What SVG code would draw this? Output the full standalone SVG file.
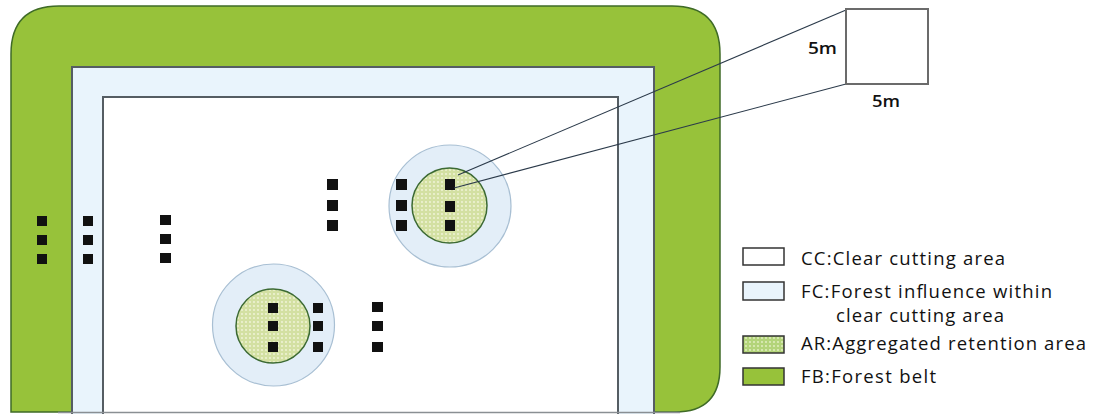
<svg xmlns="http://www.w3.org/2000/svg" width="1093" height="414" viewBox="0 0 1093 414">
  <defs>
    <pattern id="dots" width="4" height="4" patternUnits="userSpaceOnUse">
      <rect width="4" height="4" fill="#d3e0a2"/>
      <circle cx="2" cy="2" r="0.9" fill="#f3f6dc"/>
    </pattern>
    <pattern id="dotsLeg" width="4" height="4" patternUnits="userSpaceOnUse">
      <rect width="4" height="4" fill="#b3d47a"/>
      <circle cx="2" cy="2" r="0.9" fill="#e6f1c8"/>
    </pattern>
    <style>
      .belt { fill: #97c23a; stroke: #3f6b27; stroke-width: 1.5; }
      .fc { fill: #e9f4fc; stroke: #555d63; stroke-width: 2; }
      .cc { fill: #ffffff; stroke: #555d63; stroke-width: 2; }
      .halo { fill: #e3eef8; stroke: #a8bfd3; stroke-width: 1.2; }
      .ar { fill: url(#dots); stroke: #3c6a33; stroke-width: 1.5; }
      .tree { fill: #111111; }
      .link { stroke: #2b3a4a; stroke-width: 1.1; fill: none; }
      .plot { fill: #ffffff; stroke: #6b6b6b; stroke-width: 2; }
      .dim { font-family: "Open Sans", "DejaVu Sans", sans-serif; font-size: 16px; font-weight: 600; fill: #111; }
      .leg { font-family: "Open Sans", "DejaVu Sans", sans-serif; font-size: 18.5px; font-weight: 500; fill: #111; }
      .lbox { stroke: #333; stroke-width: 1.5; }
    </style>
  </defs>

  <g id="forest-belt">
    <path class="belt" d="M11,412 L11,54 Q11,6 59,6 L672,6 Q720,6 720,54 L720,367 Q720,412 675,412 Z"/>
  </g>

  <g id="forest-influence">
    <path class="fc" d="M72,414 L72,67 L654,67 L654,414"/>
  </g>

  <g id="clear-cutting">
    <path class="cc" d="M103,414 L103,97 L618,97 L618,414"/>
  </g>

  <line x1="58" y1="412.5" x2="680" y2="412.5" stroke="#8a8f93" stroke-width="1.5"/>

  <g id="retention-upper">
    <circle class="halo" cx="450" cy="206" r="61"/>
    <circle class="ar" cx="449.5" cy="205.5" r="37.5"/>
  </g>

  <g id="retention-lower">
    <circle class="halo" cx="273.5" cy="325" r="61"/>
    <circle class="ar" cx="273" cy="326" r="37"/>
  </g>

  <g id="trees">
    <rect class="tree" x="37" y="216" width="10" height="10"/>
    <rect class="tree" x="37" y="235" width="10" height="10"/>
    <rect class="tree" x="37" y="254" width="10" height="10"/>
    <rect class="tree" x="83" y="216" width="10" height="10"/>
    <rect class="tree" x="83" y="235" width="10" height="10"/>
    <rect class="tree" x="83" y="254" width="10" height="10"/>
    <rect class="tree" x="160" y="215" width="11" height="10"/>
    <rect class="tree" x="160" y="234" width="11" height="10"/>
    <rect class="tree" x="160" y="253" width="11" height="10"/>
    <rect class="tree" x="327" y="179" width="11" height="11"/>
    <rect class="tree" x="327" y="200" width="11" height="11"/>
    <rect class="tree" x="327" y="220" width="11" height="11"/>
    <rect class="tree" x="396" y="179" width="11" height="11"/>
    <rect class="tree" x="396" y="200" width="11" height="11"/>
    <rect class="tree" x="396" y="220" width="11" height="11"/>
    <rect class="tree" x="445" y="179" width="10" height="11"/>
    <rect class="tree" x="445" y="201" width="10" height="11"/>
    <rect class="tree" x="445" y="220" width="10" height="11"/>
    <rect class="tree" x="268" y="303" width="10" height="10"/>
    <rect class="tree" x="268" y="321" width="10" height="10"/>
    <rect class="tree" x="268" y="342" width="10" height="10"/>
    <rect class="tree" x="313" y="303" width="10" height="10"/>
    <rect class="tree" x="313" y="321" width="10" height="10"/>
    <rect class="tree" x="313" y="342" width="10" height="10"/>
    <rect class="tree" x="372" y="302" width="11" height="10"/>
    <rect class="tree" x="372" y="321" width="11" height="10"/>
    <rect class="tree" x="372" y="342" width="11" height="10"/>
  </g>

  <g id="connectors">
    <line class="link" x1="846" y1="10" x2="458" y2="175"/>
    <line class="link" x1="846" y1="84" x2="454" y2="188"/>
  </g>

  <g id="plot-5m">
    <rect class="plot" x="846" y="9" width="82" height="75"/>
    <text class="dim" x="808" y="54" textLength="29" lengthAdjust="spacingAndGlyphs">5m</text>
    <text class="dim" x="872" y="107" textLength="28" lengthAdjust="spacingAndGlyphs">5m</text>
  </g>

  <g id="legend">
    <rect class="lbox" x="743" y="248" width="41" height="17" fill="#ffffff"/>
    <text class="leg" x="801" y="265" textLength="204" lengthAdjust="spacing">CC:Clear cutting area</text>
    <rect class="lbox" x="743" y="282" width="41" height="18" fill="#e9f4fc"/>
    <text class="leg" x="801" y="298" textLength="251" lengthAdjust="spacing">FC:Forest influence within</text>
    <text class="leg" x="836" y="322" textLength="168" lengthAdjust="spacing">clear cutting area</text>
    <rect class="lbox" x="743" y="336" width="41" height="17" fill="url(#dotsLeg)"/>
    <text class="leg" x="801" y="350" textLength="285" lengthAdjust="spacing">AR:Aggregated retention area</text>
    <rect class="lbox" x="743" y="368" width="41" height="17" fill="#97c23a"/>
    <text class="leg" x="801" y="383" textLength="135" lengthAdjust="spacing">FB:Forest belt</text>
  </g>
</svg>
